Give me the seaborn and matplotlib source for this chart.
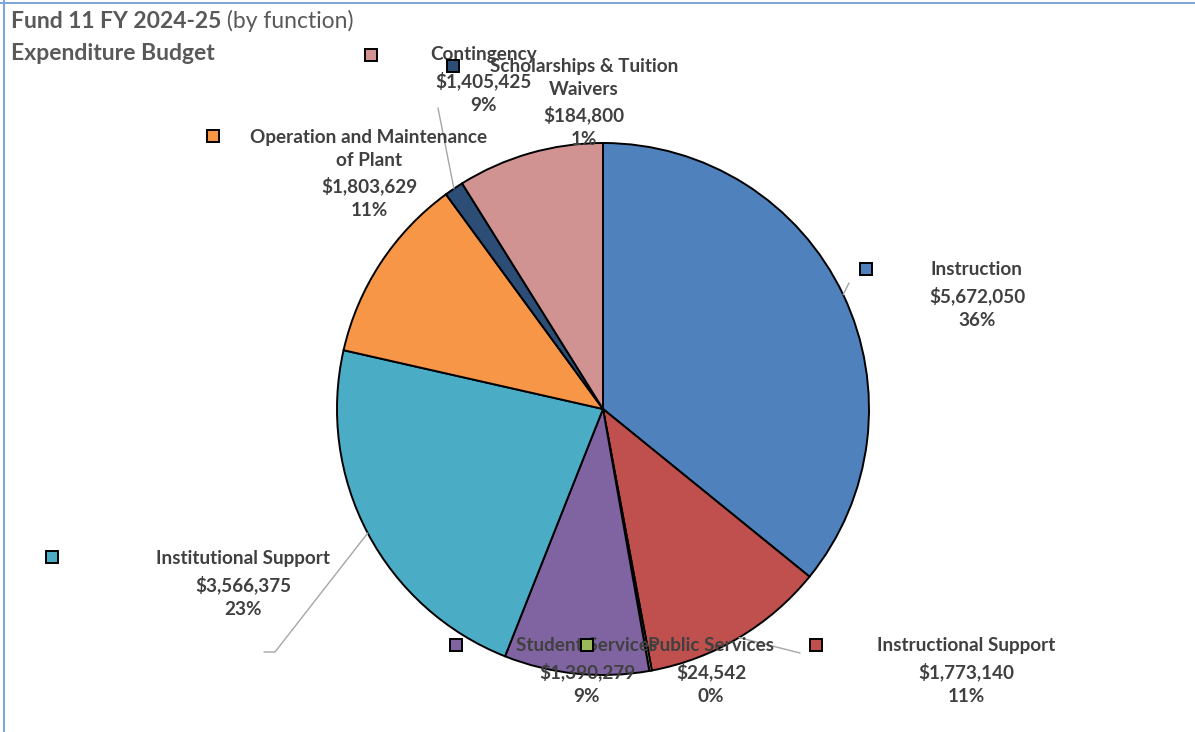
import numpy as np
import matplotlib
matplotlib.use("Agg")
import matplotlib.pyplot as plt
from matplotlib.lines import Line2D
import seaborn as sns

# Fund 11 expenditure budget by function (pie order, clockwise from 12 o'clock)
functions = [
    "Instruction",
    "Instructional Support",
    "Public Services",
    "Student Services",
    "Institutional Support",
    "Operation and Maintenance\nof Plant",
    "Scholarships & Tuition\nWaivers",
    "Contingency",
]
amounts = [5672050, 1773140, 24542, 1390279, 3566375, 1803629, 184800, 1405425]
slice_colors = ["#4F81BD", "#C0504D", "#9BBB59", "#8064A2",
                "#4BACC6", "#F79646", "#2C4D75", "#D19392"]

title_bold = "Fund 11 FY 2024-25"
title_normal = " (by function)"
subtitle = "Expenditure Budget"

sns.set_theme(style="white")
plt.rcParams["font.family"] = ["Lato", "DejaVu Sans"]

W, H = 1195, 732
fig = plt.figure(figsize=(W / 100, H / 100), dpi=100)
ax = fig.add_axes([0, 0, 1, 1])


def py(y):
    """Convert a top-down pixel row to the axes' y coordinate."""
    return H - y


cx, cy, r = 603, py(409), 266
palette = sns.color_palette(slice_colors)
ax.pie(amounts, colors=palette, startangle=90, counterclock=False,
       center=(cx, cy), radius=r, frame=True,
       wedgeprops=dict(edgecolor="black", linewidth=1.4))
ax.set_xlim(0, W)
ax.set_ylim(0, H)
ax.set_aspect("equal")
ax.axis("off")

total = float(sum(amounts))
fractions = [a / total for a in amounts]
cum = np.cumsum([0] + fractions)
mid_angles = [(cum[i] + cum[i + 1]) / 2 * 360 for i in range(len(amounts))]


def edge_point(i, extra=0):
    a = np.deg2rad(mid_angles[i])
    return cx + (r + extra) * np.sin(a), cy + (r + extra) * np.cos(a)


# label block centres and legend-key squares (pixel rows measured top-down)
label_pos = [(977, 295), (966, 671), (711, 671), (587, 671),
             (243, 584), (369, 174), (584, 103), (484, 80)]
key_pos = [(866, 269), (816, 645), (587, 645), (456, 645),
           (52, 557), (213, 136), (453, 66), (371, 55)]

text_color = "#404040"
leader_color = "#A6A6A6"

# leader lines from slice edges toward their labels
leaders = {
    0: [(849, 283)],
    1: [(800, 653)],
    4: [(275, 652), (264, 652)],
    6: [(438, 108)],
}
for i, pts in leaders.items():
    x0, y0 = edge_point(i)
    xs = [x0] + [p[0] for p in pts]
    ys = [y0] + [py(p[1]) for p in pts]
    ax.plot(xs, ys, color=leader_color, linewidth=1.0, zorder=1)

for i, (name, amt, frac) in enumerate(zip(functions, amounts, fractions)):
    label = f"{name}\n${amt:,}\n{round(frac * 100):.0f}%"
    lx, ly = label_pos[i]
    ax.text(lx, py(ly), label, ha="center", va="center",
            fontsize=13.6, fontweight="bold", color=text_color,
            linespacing=1.48, zorder=5)
    kx, ky = key_pos[i]
    ax.plot([kx], [py(ky)], marker="s", markersize=8,
            markerfacecolor=slice_colors[i], markeredgecolor="black",
            markeredgewidth=1.4, linestyle="none", zorder=6)

# title
t1 = ax.text(11, py(21), title_bold, ha="left", va="center", fontsize=16.5,
             fontweight="bold", color="#595959")
fig.canvas.draw()
bb = t1.get_window_extent(renderer=fig.canvas.get_renderer())
ax.text(bb.x1, py(21), title_normal, ha="left", va="center", fontsize=16.5,
        color="#595959")
ax.text(11, py(53), subtitle, ha="left", va="center", fontsize=16.5,
        fontweight="bold", color="#595959")

# chart frame (top and left edges)
border = "#7EA6D8"
fig.add_artist(Line2D([0, 1], [1 - 3 / H, 1 - 3 / H], color=border,
                      linewidth=1.5, transform=fig.transFigure))
fig.add_artist(Line2D([4 / W, 4 / W], [0, 1], color=border,
                      linewidth=1.5, transform=fig.transFigure))

fig.savefig("out.png", dpi=100, facecolor="white")
